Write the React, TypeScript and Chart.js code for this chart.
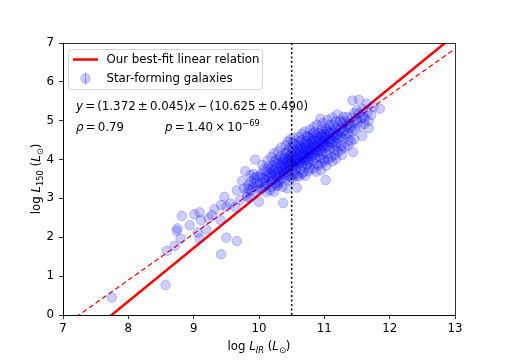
import React, { useEffect, useRef } from "react";
import { Chart, registerables } from "chart.js";

Chart.register(...registerables);

// Axis ranges (log L_IR on x, log L_150 on y)
const xRange = [7, 13];
const yRange = [0, 7];

// Best-fit relation and comparison relation
const fitSlope = 1.372;
const fitIntercept = -10.625;
const refSlope = 1.19;
const refIntercept = -8.62;

// Vertical threshold
const lirThreshold = [10.5];

// Star-forming galaxies: [log L_IR, log L_150]
const sparseGalaxies: [number, number][] = [
  [7.75, 0.45], [8.57, 0.77], [8.59, 1.65], [8.71, 1.78], [8.8, 1.97], [8.74, 2.16],
  [8.75, 2.23], [8.82, 2.55], [8.94, 2.31], [9.01, 2.59], [9.09, 2.64], [9.11, 2.44],
  [9.06, 2.12], [9.09, 1.97], [9.19, 2.2], [9.23, 2.49], [9.28, 2.57], [9.32, 2.72],
  [9.41, 2.44], [9.42, 2.83], [9.47, 3.04], [9.5, 1.99], [9.66, 1.9], [9.42, 1.56],
  [9.5, 2.78], [9.56, 2.87], [9.64, 2.78], [9.71, 2.96], [9.66, 3.21], [9.74, 3.45],
  [9.77, 3.26], [9.82, 3.04], [9.87, 3.21], [9.92, 3.39], [9.79, 3.7], [9.87, 3.6],
  [9.97, 3.56], [10.0, 2.91], [10.37, 2.88], [10.58, 3.28], [10.43, 3.26], [10.23, 3.17],
  [11.02, 3.47], [10.17, 3.21], [9.94, 4.0], [10.73, 4.6], [11.43, 5.52], [11.53, 5.54],
  [11.85, 5.31], [11.68, 4.81], [11.58, 4.61], [10.94, 5.05], [11.27, 4.12], [11.44, 4.19],
  [11.03, 3.84], [11.5, 5.27], [11.65, 5.44], [11.6, 5.1], [11.68, 4.99], [10.28, 3.32],
];

const denseGalaxies: [number, number][] = [
  [9.81, 3.12], [9.84, 3.35], [9.86, 3.02], [9.88, 3.44], [9.83, 3.25],
  [9.91, 3.3], [9.93, 3.52], [9.95, 3.18], [9.97, 3.41], [9.92, 3.63], [9.98, 3.27],
  [10.01, 3.38], [10.03, 3.62], [10.04, 3.25], [10.06, 3.51], [10.07, 3.74], [10.08, 3.4], [10.02, 3.55], [10.09, 3.31],
  [10.1, 3.47], [10.11, 3.7], [10.12, 3.59], [10.13, 3.36], [10.14, 3.82], [10.15, 3.52], [10.16, 3.65], [10.17, 3.44], [10.18, 3.77], [10.19, 3.58],
  [10.2, 3.6], [10.21, 3.85], [10.22, 3.48], [10.23, 3.72], [10.24, 3.95], [10.25, 3.63], [10.26, 3.4], [10.26, 3.8], [10.27, 3.55], [10.28, 3.91], [10.29, 3.68], [10.21, 3.73], [10.28, 3.35],
  [10.3, 3.7], [10.31, 3.92], [10.32, 3.58], [10.33, 3.84], [10.33, 4.08], [10.34, 3.66], [10.35, 3.95], [10.35, 3.5], [10.36, 3.8], [10.37, 4.02], [10.37, 3.62], [10.38, 3.88], [10.39, 3.75], [10.39, 4.15], [10.31, 3.45], [10.36, 3.71],
  [10.4, 3.82], [10.4, 4.05], [10.41, 3.68], [10.42, 3.93], [10.42, 4.18], [10.43, 3.76], [10.44, 4.0], [10.44, 3.6], [10.45, 3.88], [10.45, 4.25], [10.46, 3.95], [10.46, 3.72], [10.47, 4.1], [10.47, 3.84], [10.48, 3.55], [10.48, 4.02], [10.49, 3.9], [10.49, 4.3],
  [10.5, 3.92], [10.5, 4.15], [10.51, 3.78], [10.51, 4.05], [10.52, 4.28], [10.52, 3.86], [10.53, 4.1], [10.53, 3.65], [10.54, 3.98], [10.54, 4.22], [10.55, 3.82], [10.55, 4.4], [10.56, 4.03], [10.56, 3.74], [10.57, 4.18], [10.57, 3.94], [10.58, 4.08], [10.58, 3.58], [10.59, 4.32], [10.59, 3.88],
  [10.6, 4.02], [10.6, 4.25], [10.61, 3.9], [10.61, 4.14], [10.62, 4.38], [10.62, 3.96], [10.63, 4.2], [10.63, 3.75], [10.64, 4.08], [10.64, 4.32], [10.65, 3.92], [10.65, 4.5], [10.66, 4.13], [10.66, 3.84], [10.67, 4.28], [10.67, 4.04], [10.68, 4.18], [10.68, 3.68], [10.69, 4.42], [10.69, 3.98],
  [10.7, 4.12], [10.7, 4.36], [10.71, 4.0], [10.71, 4.24], [10.72, 4.48], [10.72, 4.06], [10.73, 4.3], [10.73, 3.85], [10.74, 4.18], [10.74, 4.42], [10.75, 4.02], [10.75, 4.6], [10.76, 4.23], [10.76, 3.94], [10.77, 4.38], [10.77, 4.14], [10.78, 4.28], [10.78, 3.78], [10.79, 4.52], [10.79, 4.08],
  [10.8, 4.22], [10.8, 4.46], [10.81, 4.1], [10.81, 4.35], [10.82, 4.58], [10.82, 4.16], [10.83, 4.4], [10.83, 3.95], [10.84, 4.28], [10.84, 4.52], [10.85, 4.12], [10.85, 4.7], [10.86, 4.33], [10.86, 4.04], [10.87, 4.48], [10.87, 4.24], [10.88, 4.38], [10.88, 3.88], [10.89, 4.62], [10.89, 4.18],
  [10.9, 4.32], [10.9, 4.56], [10.91, 4.2], [10.92, 4.45], [10.92, 4.68], [10.93, 4.26], [10.93, 4.5], [10.94, 4.05], [10.95, 4.38], [10.95, 4.62], [10.96, 4.22], [10.96, 4.78], [10.97, 4.43], [10.97, 4.14], [10.98, 4.58], [10.98, 4.34], [10.99, 4.48], [10.99, 4.0],
  [11.0, 4.42], [11.0, 4.66], [11.01, 4.3], [11.02, 4.55], [11.02, 4.8], [11.03, 4.36], [11.04, 4.6], [11.04, 4.15], [11.05, 4.48], [11.06, 4.72], [11.06, 4.32], [11.07, 4.88], [11.08, 4.53], [11.08, 4.24], [11.09, 4.68], [11.09, 4.44],
  [11.1, 4.52], [11.11, 4.76], [11.12, 4.4], [11.13, 4.65], [11.13, 4.9], [11.14, 4.46], [11.15, 4.7], [11.16, 4.25], [11.16, 4.58], [11.17, 4.82], [11.18, 4.42], [11.18, 4.98], [11.19, 4.63], [11.19, 4.34],
  [11.2, 4.64], [11.21, 4.88], [11.22, 4.52], [11.23, 4.76], [11.24, 5.0], [11.25, 4.58], [11.26, 4.82], [11.26, 4.36], [11.27, 4.7], [11.28, 4.94], [11.29, 4.55], [11.29, 5.1],
  [11.3, 4.74], [11.32, 4.98], [11.33, 4.62], [11.34, 4.86], [11.35, 5.1], [11.36, 4.68], [11.37, 4.92], [11.38, 4.5], [11.39, 4.8],
  [11.4, 4.85], [11.42, 5.08], [11.43, 4.72], [11.45, 4.96], [11.46, 5.2], [11.47, 4.78], [11.49, 5.02],
  [11.51, 4.95], [11.53, 5.18], [11.55, 4.86], [11.57, 5.08], [11.59, 5.3],
  [11.62, 5.05], [11.66, 5.22], [11.61, 4.92],
  [11.72, 5.15], [11.75, 5.35],
];

const edgeGalaxies: [number, number][] = [
  [10.05, 3.86], [10.13, 3.97], [10.19, 4.06], [10.23, 4.16], [10.29, 4.21], [10.34, 4.31],
  [10.41, 4.37], [10.44, 4.46], [10.48, 4.52], [10.53, 4.56], [10.61, 4.58], [10.66, 4.66],
  [10.7, 4.72], [10.78, 4.77], [10.84, 4.84], [10.89, 4.9], [10.98, 4.94], [11.05, 5.02],
  [11.12, 5.08], [11.2, 5.16],
  [10.11, 3.16], [10.19, 3.3], [10.3, 3.4], [10.36, 3.3], [10.46, 3.45], [10.51, 3.52],
  [10.61, 3.56], [10.66, 3.63], [10.71, 3.58], [10.76, 3.7], [10.83, 3.76], [10.87, 3.69],
  [10.91, 3.85], [10.96, 3.9], [11.01, 3.97], [11.06, 4.01], [11.11, 4.07], [11.16, 4.12],
  [11.21, 4.2], [11.26, 4.26], [11.31, 4.31], [11.36, 4.36], [11.41, 4.46], [11.46, 4.52],
  [11.12, 3.95], [11.18, 4.02], [10.95, 3.72], [10.41, 3.52], [10.56, 3.62], [10.74, 3.88],
  [10.52, 4.42], [10.62, 4.47], [10.82, 4.67], [10.96, 4.67], [11.03, 4.75], [10.27, 4.0],
];

const legendLabels = ["Our best-fit linear relation", "Star-forming galaxies"];

type Run = { t: string; it?: boolean; sub?: boolean; sup?: boolean; gap?: number };

const FONT = "'DejaVu Sans', sans-serif";
const FS = 11.8;

function runFont(r: Run) {
  const size = r.sub || r.sup ? FS * 0.7 : FS;
  return `${r.it ? "italic " : ""}${size}px ${FONT}`;
}

function runsWidth(ctx: CanvasRenderingContext2D, runs: Run[]) {
  let w = 0;
  for (const r of runs) {
    ctx.font = runFont(r);
    w += ctx.measureText(r.t).width + (r.gap || 0);
  }
  return w;
}

function drawRuns(ctx: CanvasRenderingContext2D, x: number, y: number, runs: Run[]) {
  let cx = x;
  ctx.textBaseline = "alphabetic";
  ctx.textAlign = "left";
  for (const r of runs) {
    ctx.font = runFont(r);
    const dy = r.sub ? 3 : r.sup ? -5 : 0;
    ctx.fillText(r.t, cx, y + dy);
    cx += ctx.measureText(r.t).width + (r.gap || 0);
  }
  return cx;
}

const G = 2.2;

const overlayPlugin = {
  id: "overlay",
  afterDraw(chart: any) {
    const ctx: CanvasRenderingContext2D = chart.ctx;
    const a = chart.chartArea;
    ctx.save();
    // frame
    ctx.strokeStyle = "#000";
    ctx.lineWidth = 0.8;
    ctx.strokeRect(Math.round(a.left) + 0.5, Math.round(a.top) + 0.5, Math.round(a.right - a.left), Math.round(a.bottom - a.top));

    // legend box
    const bx = 68.5, by = 49.5, bw = 194, bh = 40, rad = 3;
    ctx.beginPath();
    ctx.moveTo(bx + rad, by);
    ctx.lineTo(bx + bw - rad, by);
    ctx.arcTo(bx + bw, by, bx + bw, by + rad, rad);
    ctx.lineTo(bx + bw, by + bh - rad);
    ctx.arcTo(bx + bw, by + bh, bx + bw - rad, by + bh, rad);
    ctx.lineTo(bx + rad, by + bh);
    ctx.arcTo(bx, by + bh, bx, by + bh - rad, rad);
    ctx.lineTo(bx, by + rad);
    ctx.arcTo(bx, by, bx + rad, by, rad);
    ctx.closePath();
    ctx.fillStyle = "rgba(255,255,255,0.8)";
    ctx.fill();
    ctx.strokeStyle = "#d5d5d5";
    ctx.lineWidth = 1;
    ctx.stroke();

    // legend entries
    ctx.strokeStyle = "#ff0000";
    ctx.lineWidth = 2.5;
    ctx.beginPath();
    ctx.moveTo(73, 59.5);
    ctx.lineTo(98, 59.5);
    ctx.stroke();

    ctx.beginPath();
    ctx.arc(85.5, 78.5, 4.8, 0, Math.PI * 2);
    ctx.fillStyle = "rgba(0,0,255,0.2)";
    ctx.fill();
    ctx.strokeStyle = "rgba(0,0,255,0.2)";
    ctx.lineWidth = 1;
    ctx.stroke();
    ctx.beginPath();
    ctx.moveTo(85.5, 72.5);
    ctx.lineTo(85.5, 84.5);
    ctx.strokeStyle = "rgba(0,0,255,0.3)";
    ctx.lineWidth = 1.2;
    ctx.stroke();

    ctx.fillStyle = "#000";
    ctx.font = `${FS}px ${FONT}`;
    ctx.textBaseline = "middle";
    ctx.textAlign = "left";
    ctx.fillText(legendLabels[0], 106.5, 60);
    ctx.fillText(legendLabels[1], 106.5, 79);

    // equations
    ctx.fillStyle = "#000";
    drawRuns(ctx, 76, 109.5, [
      { t: "y", it: true, gap: G },
      { t: "=", gap: G },
      { t: "(1.372", gap: G },
      { t: "±", gap: G },
      { t: "0.045)" },
      { t: "x", it: true, gap: G },
      { t: "−", gap: G },
      { t: "(10.625", gap: G },
      { t: "±", gap: G },
      { t: "0.490)" },
    ]);
    drawRuns(ctx, 76, 130.5, [{ t: "ρ", it: true, gap: G }, { t: "=", gap: G }, { t: "0.79" }]);
    drawRuns(ctx, 165, 130.5, [
      { t: "p", it: true, gap: G },
      { t: "=", gap: G },
      { t: "1.40", gap: G },
      { t: "×", gap: G },
      { t: "10" },
      { t: "−69", sup: true },
    ]);

    // x-axis title
    const xt: Run[] = [
      { t: "log " },
      { t: "L", it: true },
      { t: "IR", it: true, sub: true },
      { t: " (" },
      { t: "L", it: true },
      { t: "⊙", sub: true },
      { t: ")" },
    ];
    const xw = runsWidth(ctx, xt);
    drawRuns(ctx, (a.left + a.right) / 2 - xw / 2, 350, xt);

    // y-axis title
    const yt: Run[] = [
      { t: "log " },
      { t: "L", it: true },
      { t: "150", sub: true },
      { t: " (" },
      { t: "L", it: true },
      { t: "⊙", sub: true },
      { t: ")" },
    ];
    const yw = runsWidth(ctx, yt);
    ctx.translate(40, (a.top + a.bottom) / 2);
    ctx.rotate(-Math.PI / 2);
    drawRuns(ctx, -yw / 2, 0, yt);
    ctx.restore();
  },
};

export default function App() {
  const ref = useRef<HTMLCanvasElement>(null);
  useEffect(() => {
    document.body.style.margin = "0";
    const canvas = ref.current!;
    const lineData = (m: number, b: number) => xRange.map((x) => ({ x, y: m * x + b }));
    const tickCommon = {
      color: "#000",
      font: { family: FONT, size: FS },
      stepSize: 1,
      maxRotation: 0,
    };
    const gridCommon = {
      display: true,
      drawOnChartArea: false,
      drawTicks: true,
      tickLength: 4,
      color: "#000",
      lineWidth: 0.8,
    };
    const chart = new Chart(canvas, {
      type: "scatter",
      data: {
        datasets: [
          {
            label: legendLabels[1],
            data: [...sparseGalaxies, ...denseGalaxies, ...edgeGalaxies].map(([x, y]) => ({ x, y })),
            pointRadius: 4.8,
            pointBackgroundColor: "rgba(0,0,255,0.2)",
            pointBorderColor: "rgba(0,0,255,0.2)",
            pointBorderWidth: 1,
            order: 1,
          } as any,
          {
            label: "threshold",
            data: yRange.map((y) => ({ x: lirThreshold[0], y })),
            showLine: true,
            borderColor: "#000",
            borderWidth: 1.5,
            borderDash: [2, 2.5],
            pointRadius: 0,
            order: 0,
          } as any,
          {
            label: legendLabels[0],
            data: lineData(fitSlope, fitIntercept),
            showLine: true,
            borderColor: "#ff0000",
            borderWidth: 2.5,
            pointRadius: 0,
            clip: 0,
            order: 2,
          } as any,
          {
            label: "reference",
            data: lineData(refSlope, refIntercept),
            showLine: true,
            borderColor: "#ff0000",
            borderWidth: 1.2,
            borderDash: [5, 3],
            pointRadius: 0,
            clip: 0,
            order: 3,
          } as any,
        ],
      },
      options: {
        responsive: false,
        animation: false,
        events: [],
        layout: { padding: { top: 43, right: 50, left: 0, bottom: 0 } },
        plugins: { legend: { display: false }, tooltip: { enabled: false } },
        scales: {
          x: {
            type: "linear",
            min: xRange[0],
            max: xRange[1],
            ticks: { ...tickCommon, padding: 3 },
            grid: gridCommon,
            border: { display: true, color: "#000", width: 0.8 },
            afterFit: (s: any) => {
              s.height = 45;
            },
          },
          y: {
            type: "linear",
            min: yRange[0],
            max: yRange[1],
            ticks: { ...tickCommon, padding: 5 },
            grid: gridCommon,
            border: { display: true, color: "#000", width: 0.8 },
            afterFit: (s: any) => {
              s.width = 63;
            },
          },
        },
      } as any,
      plugins: [overlayPlugin],
    });
    return () => chart.destroy();
  }, []);
  return (
    <div style={{ position: "absolute", left: 0, top: 0 }}>
      <canvas ref={ref} width={505} height={360} style={{ display: "block", width: 505, height: 360 }} />
    </div>
  );
}
